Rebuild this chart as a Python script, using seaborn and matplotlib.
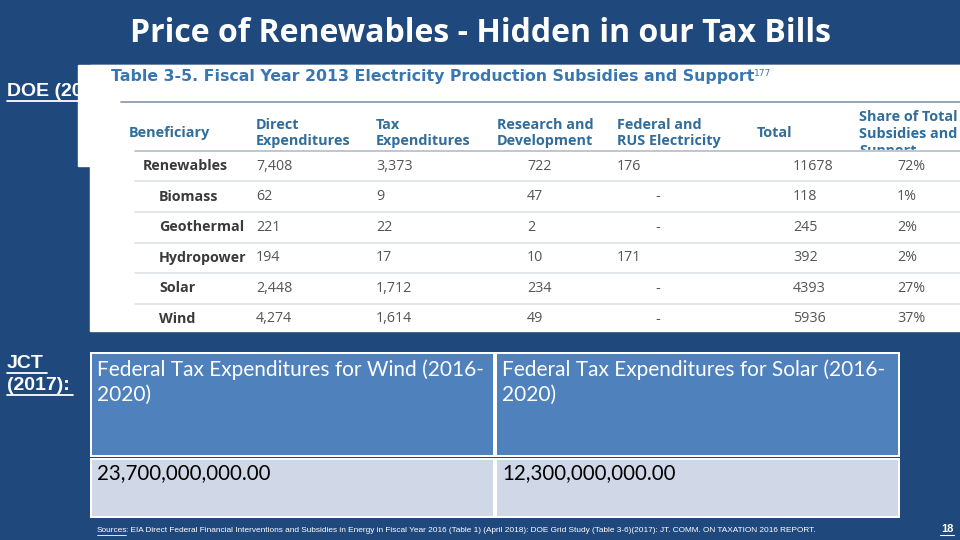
import numpy as np
import pandas as pd
import seaborn as sns
import matplotlib.pyplot as plt
from matplotlib.colors import ListedColormap
from matplotlib.patches import Rectangle

# DOE Table 3-5 (FY2013, million $)
beneficiary = ["Renewables", "Biomass", "Geothermal", "Hydropower", "Solar", "Wind"]
direct = [7408, 62, 221, 194, 2448, 4274]
tax = [3373, 9, 22, 17, 1712, 1614]
rnd = [722, 47, 2, 10, 234, 49]
federal = [176, None, None, 171, None, None]
total = [11678, 118, 245, 392, 4393, 5936]
share = [72, 1, 2, 2, 27, 37]

# JCT (2017) tax expenditures 2016-2020
jct_headers = ["Federal Tax Expenditures for Wind (2016-\n2020)",
               "Federal Tax Expenditures for Solar (2016-\n2020)"]
jct_values = [23700000000.00, 12300000000.00]

BG = "#1f497d"
sns.set_theme(style="white")
plt.rcParams["font.family"] = ["Lato", "DejaVu Sans"]


def px_axes(fig):
    ax = fig.add_axes([0, 0, 1, 1])
    ax.set_xlim(0, 960)
    ax.set_ylim(540, 0)
    ax.axis("off")
    ax.patch.set_alpha(0)
    return ax


fig = plt.figure(figsize=(9.6, 5.4), dpi=100, facecolor=BG)
bg = px_axes(fig)

# title
bg.text(480, 33, "Price of Renewables - Hidden in our Tax Bills", color="white",
        fontsize=23, fontweight="bold", family="Open Sans", ha="center", va="center")

# side labels (underlined)
lab = dict(color="white", fontsize=14, fontweight="bold", family="Liberation Sans",
           va="center", ha="left")
bg.text(7, 91, "DOE (2017):", zorder=1, **lab)
bg.plot([7, 100], [100.5, 100.5], color="white", lw=1.3, zorder=1)
bg.text(7, 363, "JCT", **lab)
bg.plot([7, 47], [372.5, 372.5], color="white", lw=1.3)
bg.text(7, 385, "(2017):", **lab)
bg.plot([7, 73], [394.5, 394.5], color="white", lw=1.3)

# white image area of DOE table
bg.add_patch(Rectangle((78, 65), 882, 101, color="white", zorder=2))
bg.add_patch(Rectangle((90, 65), 870, 266, color="white", zorder=2))

bg.text(111, 76, "Table 3-5. Fiscal Year 2013 Electricity Production Subsidies and Support",
        color="#3a77b0", fontsize=11.3, fontweight="bold", family="DejaVu Sans",
        va="center", zorder=3)
bg.text(754, 73, "177", color="#3a77b0", fontsize=6.5, family="DejaVu Sans",
        va="center", zorder=3)
bg.plot([121, 960], [102, 102], color="#7f97ad", lw=1.2, zorder=3)

hdr = dict(color="#2f6d9c", fontsize=10.4, fontweight="bold", family="Open Sans",
           va="center", ha="left", zorder=3, linespacing=1.25)
bg.text(129, 133, "Beneficiary", **hdr)
bg.text(256, 133, "Direct\nExpenditures", **hdr)
bg.text(376, 133, "Tax\nExpenditures", **hdr)
bg.text(497, 133, "Research and\nDevelopment", **hdr)
bg.text(617, 133, "Federal and\nRUS Electricity", **hdr)
bg.text(757, 133, "Total", **hdr)
bg.text(859, 134, "Share of Total\nSubsidies and\nSupport", **hdr)
bg.add_patch(Rectangle((850, 149.5), 110, 8, color="white", zorder=4))
bg.plot([135, 960], [151, 151], color="#b9c3cc", lw=1.3, zorder=5)

row_h = 30.6
cell = dict(color="#555555", fontsize=10.3, family="Open Sans", va="center", zorder=3)
for i, name in enumerate(beneficiary):
    y = 166 + i * row_h
    bg.text(143 if i == 0 else 159, y, name, color="#3a3a3a", fontsize=10.3,
            fontweight="bold", family="Open Sans", va="center", zorder=3)
    bg.text(256, y, f"{direct[i]:,}", **cell)
    bg.text(376, y, f"{tax[i]:,}", **cell)
    bg.text(527, y, f"{rnd[i]:,}", **cell)
    if federal[i] is None:
        bg.text(655, y, "-", **cell)
    else:
        bg.text(617, y, f"{federal[i]:,}", **cell)
    bg.text(793, y, f"{total[i]}", **cell)
    bg.text(897, y, f"{share[i]}%", **cell)
    if i < len(beneficiary) - 1:
        bg.plot([135, 960], [y + row_h / 2, y + row_h / 2], color="#dde1e5",
                lw=1.2, zorder=3)

# JCT table with seaborn heatmaps: header row and value row
hdr_ax = fig.add_axes([90 / 960, 1 - 456.5 / 540, 810 / 960, 104.5 / 540])
val_ax = fig.add_axes([90 / 960, 1 - 517.5 / 540, 810 / 960, 60 / 540])
hdr_df = pd.DataFrame([[0, 0]], columns=["Wind", "Solar"])
val_df = pd.DataFrame([[1, 1]], columns=["Wind", "Solar"])
cmap = ListedColormap(["#4f81bd", "#d0d8e8"])
for ax, df in [(hdr_ax, hdr_df), (val_ax, val_df)]:
    sns.heatmap(df, ax=ax, cmap=cmap, vmin=0, vmax=1, cbar=False,
                linewidths=1.6, linecolor="white", xticklabels=False, yticklabels=False)

top = px_axes(fig)
for j, h in enumerate(jct_headers):
    top.text(97 + j * 405, 382, h, color="white", fontsize=15, va="center",
             ha="left", linespacing=1.3)
    top.text(97 + j * 405, 473, f"{jct_values[j]:,.2f}", color="black", fontsize=14.8,
             va="center", ha="left")

# source line and page number
top.text(97, 530, "Sources", color="white", fontsize=5.95, family="Liberation Sans",
         va="center")
top.plot([97, 126], [534.5, 534.5], color="white", lw=0.6)
top.text(126, 530, ": EIA Direct Federal Financial Interventions and Subsidies in Energy in "
         "Fiscal Year 2016 (Table 1) (April 2018): DOE Grid Study (Table 3-6)(2017): "
         "JT. COMM. ON TAXATION 2016 REPORT.", color="white", fontsize=5.95,
         family="Liberation Sans", va="center")
top.text(947, 529, "18", color="white", fontsize=8, fontweight="bold",
         family="Liberation Sans", va="center", ha="center")
top.plot([940, 954], [535, 535], color="white", lw=0.8)

fig.savefig("out.png", dpi=100, facecolor=BG)
